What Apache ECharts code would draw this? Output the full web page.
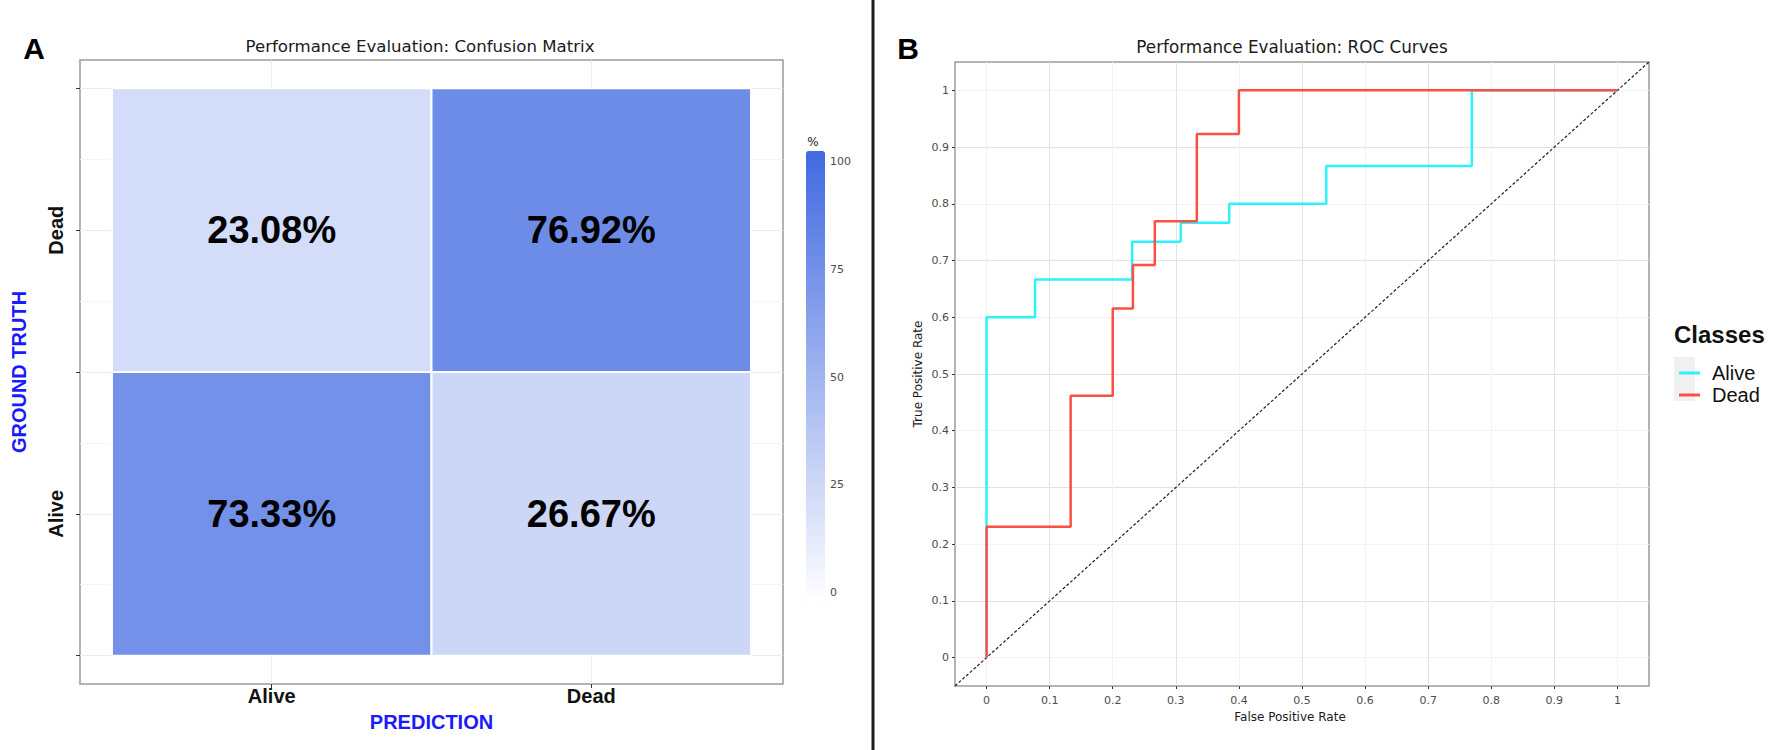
<!DOCTYPE html>
<html>
<head>
<meta charset="utf-8">
<script src="https://cdn.jsdelivr.net/npm/echarts@6/dist/echarts.min.js"></script>
<style>
  html, body { margin: 0; padding: 0; background: #fff; }
  #chart { width: 1780px; height: 750px; }
</style>
</head>
<body>
<div id="chart"></div>
<script>
// --- A: confusion matrix, % of each ground-truth row ---
const classes = ['Alive', 'Dead'];
const truthAlive = [73.33, 26.67]; // predicted Alive, predicted Dead
const truthDead = [23.08, 76.92];
const colorbarTicks = [0, 25, 50, 75, 100];

// --- B: ROC curves, one point per threshold ---
const rocTicks = [0, 0.1, 0.2, 0.3, 0.4, 0.5, 0.6, 0.7, 0.8, 0.9, 1];
const aliveFpr = [0, 0, 0.0769, 0.2308, 0.3077, 0.3846, 0.5385, 0.7692, 1];
const aliveTpr = [0, 0.6, 0.6667, 0.7333, 0.7667, 0.8, 0.8667, 1, 1];
const deadFpr = [0, 0, 0.1333, 0.2, 0.232, 0.2667, 0.3333, 0.4, 1];
const deadTpr = [0, 0.2308, 0.4615, 0.6154, 0.6923, 0.7692, 0.9231, 1, 1];
const rocRange = [-0.05, 1.05];

const SANS = '"Liberation Sans", Arial, sans-serif';
const DEJA = '"DejaVu Sans", sans-serif';

const cmData = [];
[truthAlive, truthDead].forEach((row, i) => {
  row.forEach((v, j) => cmData.push([j + 1, i + 1, v]));
});
const zip = (xs, ys) => xs.map((x, i) => [x, ys[i]]);

function text(str, x, y, font, fill, align) {
  return {
    type: 'text', x: x, y: y, z: 10,
    style: {
      text: str, font: font, fill: fill || '#000',
      textAlign: align || 'center', align: align || 'center',
      textVerticalAlign: 'middle', verticalAlign: 'middle'
    }
  };
}

const rocFmt = v => String(+(+v).toFixed(2));

const chart = echarts.init(document.getElementById('chart'), null, { renderer: 'svg' });
chart.setOption({
  animation: false,
  grid: [
    { left: 80, top: 60, width: 703, height: 624, show: true, borderColor: '#9a9a9a', borderWidth: 1.5 },
    { left: 955, top: 62, width: 694, height: 624, show: true, borderColor: '#9a9a9a', borderWidth: 1.5 },
    { left: 806, top: 151, width: 19, height: 452 }
  ],
  xAxis: [
    {
      gridIndex: 0, type: 'value', min: 0.4, max: 2.6,
      name: 'PREDICTION', nameLocation: 'middle', nameGap: 28,
      nameTextStyle: { color: '#1a1aff', fontWeight: 'bold', fontSize: 20, fontFamily: SANS },
      axisLine: { show: false, onZero: false },
      axisTick: { customValues: [1, 2], length: 4, lineStyle: { color: '#333' } },
      axisLabel: {
        customValues: [1, 2], formatter: v => classes[Math.round(v) - 1],
        margin: 2, fontSize: 20, fontWeight: 'bold', color: '#111', fontFamily: SANS
      },
      splitLine: { lineStyle: { color: '#ececec' } }
    },
    {
      gridIndex: 1, type: 'value', min: rocRange[0], max: rocRange[1], interval: 0.05,
      name: 'False Positive Rate', nameLocation: 'middle', nameGap: 25,
      nameTextStyle: { color: '#1a1a1a', fontSize: 12, fontFamily: DEJA, padding: [0, 24, 0, 0] },
      axisLine: { show: false, onZero: false },
      axisTick: { customValues: rocTicks, length: 3, lineStyle: { color: '#333' } },
      axisLabel: { customValues: rocTicks, formatter: rocFmt, margin: 9, fontSize: 11, color: '#4d4d4d', fontFamily: DEJA },
      splitLine: { lineStyle: { color: ['#f3f3f3', '#e2e2e2'] } }
    },
    { gridIndex: 2, type: 'value', min: 0, max: 1, show: false }
  ],
  yAxis: [
    {
      gridIndex: 0, type: 'value', min: 0.4, max: 2.6,
      name: 'GROUND TRUTH', nameLocation: 'middle', nameGap: 51,
      nameTextStyle: { color: '#1a1aff', fontWeight: 'bold', fontSize: 20, fontFamily: SANS },
      axisLine: { show: false, onZero: false },
      axisTick: { customValues: [0.5, 1, 1.5, 2, 2.5], length: 4, lineStyle: { color: '#333' } },
      axisLabel: {
        customValues: [1, 2], formatter: v => classes[Math.round(v) - 1], rotate: 90,
        margin: 14, fontSize: 20, fontWeight: 'bold', color: '#111', fontFamily: SANS
      },
      splitLine: { lineStyle: { color: '#ececec' } },
      minorTick: { show: false, splitNumber: 2 },
      minorSplitLine: { show: true, lineStyle: { color: '#f5f5f5' } }
    },
    {
      gridIndex: 1, type: 'value', min: rocRange[0], max: rocRange[1], interval: 0.05,
      name: 'True Positive Rate', nameLocation: 'middle', nameGap: 31,
      nameTextStyle: { color: '#1a1a1a', fontSize: 12, fontFamily: DEJA },
      axisLine: { show: false, onZero: false },
      axisTick: { customValues: rocTicks, length: 3, lineStyle: { color: '#333' } },
      axisLabel: { customValues: rocTicks, formatter: rocFmt, margin: 6, fontSize: 11, color: '#4d4d4d', fontFamily: DEJA },
      splitLine: { lineStyle: { color: ['#f3f3f3', '#e2e2e2'] } }
    },
    {
      gridIndex: 2, type: 'value', min: -2.5, max: 102.5, position: 'right',
      axisLine: { show: false, onZero: false },
      axisTick: { customValues: colorbarTicks, inside: true, length: 4, lineStyle: { color: 'rgba(255,255,255,0.85)' } },
      axisLabel: { customValues: colorbarTicks, margin: 5, fontSize: 11, color: '#4d4d4d', fontFamily: DEJA },
      splitLine: { show: false }
    },
    {
      gridIndex: 2, type: 'value', min: -2.5, max: 102.5, position: 'left',
      axisLine: { show: false, onZero: false },
      axisTick: { customValues: colorbarTicks, inside: true, length: 4, lineStyle: { color: 'rgba(255,255,255,0.85)' } },
      axisLabel: { show: false },
      splitLine: { show: false }
    }
  ],
  visualMap: {
    type: 'continuous', seriesIndex: 0, dimension: 2, min: 0, max: 100,
    inRange: { color: ['#ffffff', '#4169e1'] },
    left: 806, top: 151, itemWidth: 19, itemHeight: 452, padding: 0,
    calculable: false, realtime: false
  },
  legend: {
    data: ['Alive', 'Dead'], orient: 'vertical', left: 1674, top: 357,
    icon: 'rect', itemWidth: 21, itemHeight: 3, itemGap: 0,
    textStyle: { fontSize: 20, lineHeight: 22, color: '#111', fontFamily: SANS, padding: [0, 0, 0, 7] }
  },
  graphic: [
    { type: 'line', shape: { x1: 873, y1: 0, x2: 873, y2: 750 }, style: { stroke: '#1a1a1a', lineWidth: 3 } },
    { type: 'rect', shape: { x: 1674, y: 357, width: 21, height: 22 }, style: { fill: '#f0f0f0' } },
    { type: 'rect', shape: { x: 1674, y: 379, width: 21, height: 22 }, style: { fill: '#f0f0f0' } },
    text('A', 34, 48, 'bold 30px ' + SANS),
    text('B', 908, 48, 'bold 30px ' + SANS),
    text('Performance Evaluation: Confusion Matrix', 420, 46, '16.6px ' + DEJA, '#1a1a1a'),
    text('Performance Evaluation: ROC Curves', 1292, 47, '16.8px ' + DEJA, '#1a1a1a'),
    text('%', 813, 142, '12px ' + DEJA, '#1a1a1a'),
    text('Classes', 1674, 334, 'bold 24px ' + SANS, '#111', 'left')
  ],
  series: [
    {
      name: 'confusion', type: 'custom', xAxisIndex: 0, yAxisIndex: 0, data: cmData,
      renderItem: (params, api) => {
        const x = api.value(0), y = api.value(1);
        const p0 = api.coord([x - 0.5, y + 0.5]);
        const p1 = api.coord([x + 0.5, y - 0.5]);
        const c = api.coord([x, y]);
        return {
          type: 'group',
          children: [
            {
              type: 'rect',
              shape: { x: p0[0], y: p0[1], width: p1[0] - p0[0], height: p1[1] - p0[1] },
              style: { fill: api.visual('color'), stroke: '#fff', lineWidth: 2 }
            },
            {
              type: 'text', x: c[0], y: c[1],
              style: {
                text: api.value(2).toFixed(2) + '%', fill: '#000',
                font: 'bold 38px ' + SANS,
                textAlign: 'center', align: 'center', textVerticalAlign: 'middle', verticalAlign: 'middle'
              }
            }
          ]
        };
      }
    },
    {
      name: 'chance', type: 'line', xAxisIndex: 1, yAxisIndex: 1,
      data: zip(rocRange, rocRange), showSymbol: false, silent: true,
      lineStyle: { color: '#222', width: 1.2, type: [3, 2] }
    },
    {
      name: 'Alive', type: 'line', xAxisIndex: 1, yAxisIndex: 1, step: 'end',
      data: zip(aliveFpr, aliveTpr), showSymbol: false, color: '#2ef2fa',
      lineStyle: { color: '#2ef2fa', width: 2.5 }
    },
    {
      name: 'Dead', type: 'line', xAxisIndex: 1, yAxisIndex: 1, step: 'end',
      data: zip(deadFpr, deadTpr), showSymbol: false, color: '#fa5044',
      lineStyle: { color: '#fa5044', width: 2.5 }
    }
  ]
});
</script>
</body>
</html>
